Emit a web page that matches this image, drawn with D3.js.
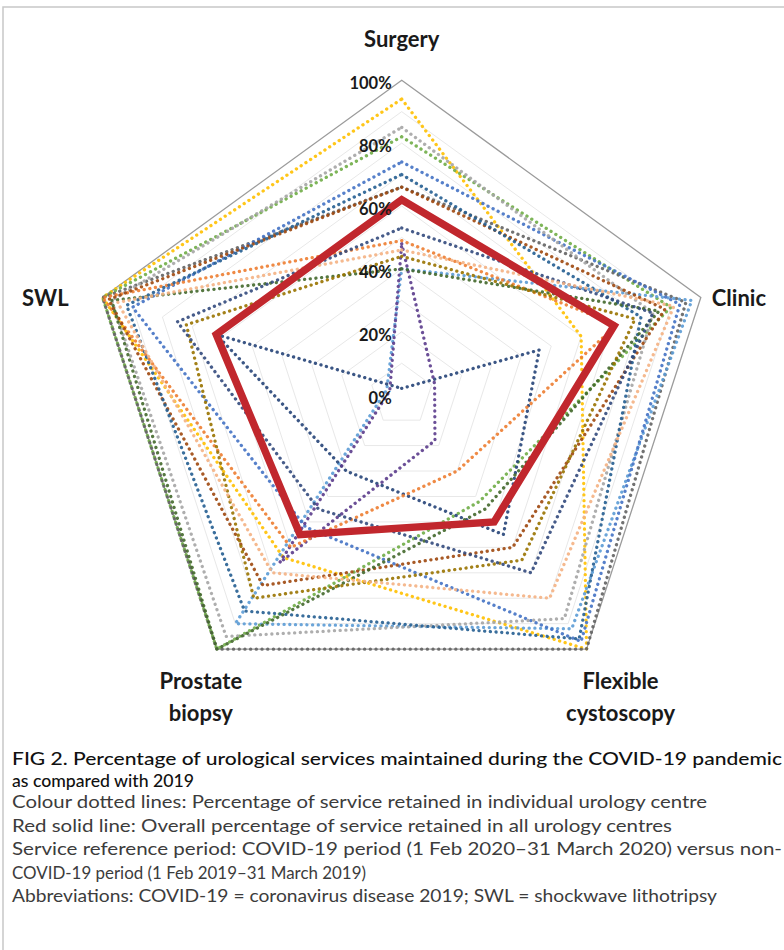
<!DOCTYPE html>
<head>
<meta charset="utf-8">
<script src="https://d3js.org/d3.v7.min.js"></script>
<style>
body {
	margin: 0;
	background: #fff;
}
.axis-label {
	font: bold 22px Lato, "Open Sans", sans-serif;
	fill: #1a1a1a;
}
.tick-label {
	font: bold 16.5px Lato, "Open Sans", sans-serif;
	fill: #1a1a1a;
}
.cap-title {
	font: 500 18px Lato, "Open Sans", sans-serif;
	fill: #111;
}
.cap-body {
	font: 16.5px Lato, "Open Sans", sans-serif;
	fill: #3c3c3c;
}
</style>
</head>
<body>
<svg id="chart" width="784" height="950"></svg>

<script>

// services around the radar, clockwise from top
var axes = ["Surgery", "Clinic", "Flexible cystoscopy", "Prostate biopsy", "SWL"];
var tickValues = [0, 20, 40, 60, 80, 100];
var gridValues = [10, 20, 30, 40, 50, 60, 70, 80, 90];

// overall % retained (red solid line)
var overall = [62, 71, 50, 55, 62];

// individual centres, % retained per service (dotted lines)
var centreColors = ["#FFC000", "#70AD47", "#636363", "#5B9BD5", "#4472C4",
	"#264478", "#5B3C8C", "#ED7D31", "#A5A5A5", "#9E480E",
	"#255E91", "#43682B", "#997300", "#334A7D", "#F4B183"];
var centres = [
	[94, 60, 100, 64, 100],
	[82, 90, 42, 100, 100],
	[66, 95, 100, 100, 100],
	[40, 97, 92, 90, 5],
	[74, 93, 97, 52, 90],
	[2, 46, 55, 30, 62],
	[48, 11, 18, 66, 4],
	[49, 72, 30, 60, 100],
	[85, 84, 88, 95, 97],
	[66, 88, 60, 75, 98],
	[70, 80, 96, 85, 92],
	[40, 86, 45, 100, 97],
	[44, 78, 65, 80, 72],
	[53, 84, 70, 45, 75],
	[46, 91, 80, 70, 95]
];

var captionTitle = [
	"FIG 2.  Percentage of urological services maintained during the COVID-19 pandemic",
	"as compared with 2019"
];
var captionBody = [
	"Colour dotted lines: Percentage of service retained in individual urology centre",
	"Red solid line: Overall percentage of service retained in all urology centres",
	"Service reference period: COVID-19 period (1 Feb 2020\u201331 March 2020) versus non-",
	"COVID-19 period (1 Feb 2019\u201331 March 2019)",
	"Abbreviations: COVID-19 = coronavirus disease 2019; SWL = shockwave lithotripsy"
];
var titleWidths = [770, 182];
var bodyWidths = [695, 660, 770, 354, 705];

var svg = d3.select("#chart"),
	cx = 401.7,
	cy = 394.7,
	R = 314.5;

var r = d3.scaleLinear().domain([0, 100]).range([0, R]);
var angle = d3.scaleLinear().domain([0, axes.length]).range([0, 2 * Math.PI]);

var radar = d3.lineRadial()
	.angle((d, i) => angle(i))
	.radius(d => r(d))
	.curve(d3.curveLinearClosed);

// frame
svg.append("path")
	.attr("d", "M3,950 V7 H784")
	.attr("fill", "none")
	.attr("stroke", "#c8c8c8")
	.attr("stroke-width", 1.5);

var g = svg.append("g")
	.attr("transform", "translate(" + cx + "," + cy + ")");

// faint inner rings
g.selectAll(".ring")
	.data(gridValues)
	.enter().append("path")
	.attr("class", "ring")
	.attr("d", v => radar(axes.map(() => v)))
	.attr("fill", "none")
	.attr("stroke", "#e8e8e8")
	.attr("stroke-width", 1);

// outer ring
g.append("path")
	.attr("d", radar(axes.map(() => 100)))
	.attr("fill", "none")
	.attr("stroke", "#9b9b9b")
	.attr("stroke-width", 1.3);

// centres
g.selectAll(".centre")
	.data(centres)
	.enter().append("path")
	.attr("class", "centre")
	.attr("d", d => radar(d))
	.attr("fill", "none")
	.attr("stroke", (d, i) => centreColors[i])
	.attr("stroke-width", 3.3)
	.attr("stroke-linecap", "round")
	.attr("stroke-dasharray", "0.1 5.6")
	.attr("opacity", 0.9);

// overall
g.append("path")
	.attr("d", radar(overall))
	.attr("fill", "none")
	.attr("stroke", "#c1272d")
	.attr("stroke-width", 7.5)
	.attr("stroke-linejoin", "miter");

// tick labels along the Surgery axis
g.selectAll(".tick-label")
	.data(tickValues)
	.enter().append("text")
	.attr("class", "tick-label")
	.attr("x", -10)
	.attr("y", d => -r(d) + 9)
	.attr("text-anchor", "end")
	.text(d => d + "%");

// axis labels
var labelPos = [
	{dx: 0, dy: -33, anchor: "middle"},
	{dx: 11, dy: 8, anchor: "start"},
	{dx: 34, dy: 40, anchor: "middle"},
	{dx: -16, dy: 40, anchor: "middle"},
	{dx: -34, dy: 8, anchor: "end"}
];

axes.forEach(function(name, i) {
	var a = angle(i),
		px = r(100) * Math.sin(a),
		py = -r(100) * Math.cos(a),
		p = labelPos[i],
		words = name.split(" ");
	var t = g.append("text")
		.attr("class", "axis-label")
		.attr("text-anchor", p.anchor)
		.attr("x", px + p.dx)
		.attr("y", py + p.dy);
	words.forEach(function(w, j) {
		t.append("tspan")
			.attr("x", px + p.dx)
			.attr("dy", j == 0 ? 0 : 32)
			.text(w);
	});
});

// caption
svg.selectAll(".cap-title")
	.data(captionTitle)
	.enter().append("text")
	.attr("class", "cap-title")
	.attr("x", 12)
	.attr("y", (d, i) => 765 + i * 22)
	.attr("textLength", (d, i) => titleWidths[i])
	.attr("lengthAdjust", "spacingAndGlyphs")
	.text(d => d);

svg.selectAll(".cap-body")
	.data(captionBody)
	.enter().append("text")
	.attr("class", "cap-body")
	.attr("x", 12)
	.attr("y", (d, i) => 808 + i * 23.5)
	.attr("textLength", (d, i) => bodyWidths[i])
	.attr("lengthAdjust", "spacingAndGlyphs")
	.text(d => d);

</script>
</body>
